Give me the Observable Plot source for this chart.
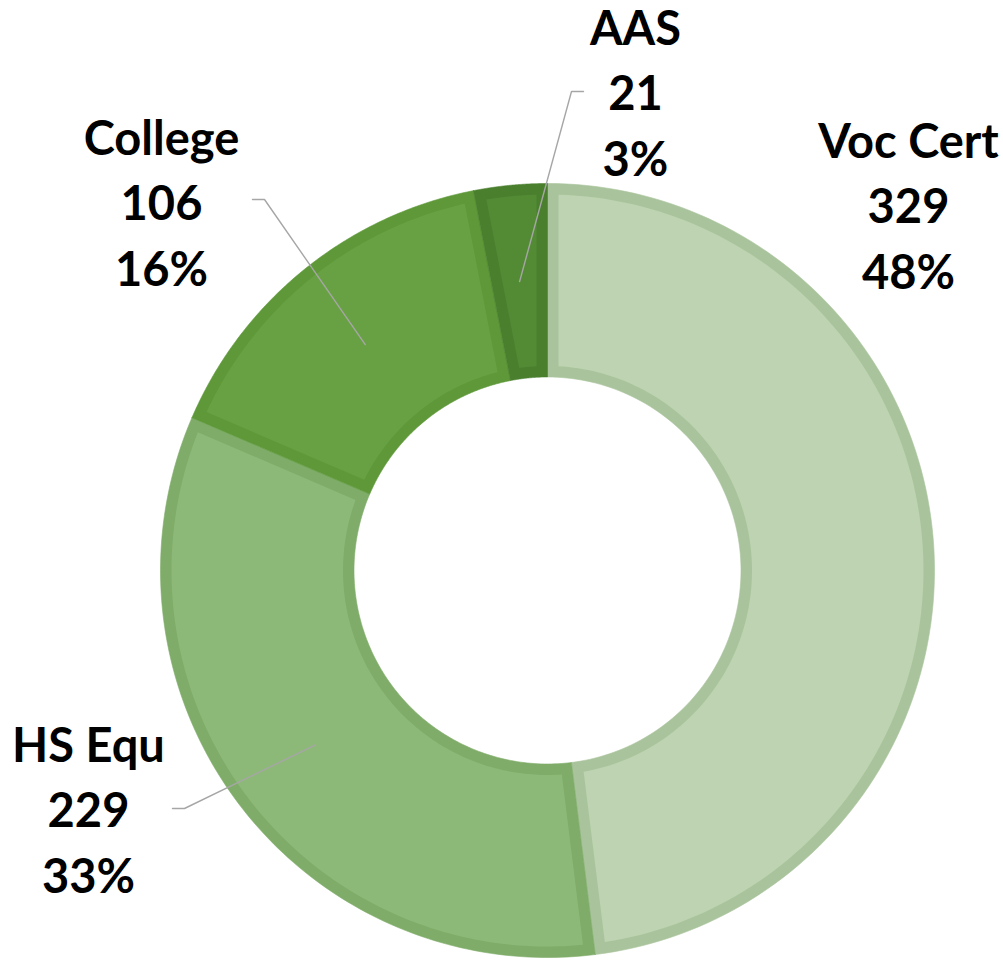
<!DOCTYPE html>
<html>
<head>
<meta charset="utf-8">
<script src="https://cdn.jsdelivr.net/npm/d3@7"></script>
<script src="https://cdn.jsdelivr.net/npm/@observablehq/plot@0.6"></script>
<style>
  html, body { margin: 0; padding: 0; background: #ffffff; }
  #chart svg { display: block; }
</style>
</head>
<body>
<div id="chart"></div>
<script>
// ---- data ----
const categories = ["Voc Cert", "HS Equ", "College", "AAS"];
const counts = [329, 229, 106, 21];
const percents = [48, 33, 16, 3];

// ---- styles ----
const fillColors = ["#bed3b1", "#8db978", "#68a143", "#538b35"];
const borderColors = ["#a9c49c", "#7fac69", "#5e9839", "#4a7f2e"];

// ---- layout (pixels) ----
const W = 1003, H = 962;
const CX = 547, CY = 570, R = 387;       // donut centre and outer radius (px)
const innerRatio = 0.5;                  // inner radius / outer radius
const borderPx = 11;                     // inset border width
const leaderRadius = 0.75;               // where leader lines touch the ring
// label anchor: text centre x, last baseline y (px); leader start (px) or null
const labelLayout = {
  "Voc Cert": {x: 908, y: 288, leader: null},
  "HS Equ":   {x: 88,  y: 892, leader: [172, 808], dir: 1},
  "College":  {x: 161, y: 285, leader: [252, 199], dir: 1},
  "AAS":      {x: 635, y: 175, leader: [583, 91], dir: -1}
};
const elbowPx = 12;

const toUx = px => (px - CX) / R;
const toUy = py => (py - CY) / R;

// ---- geometry from values ----
const pie = d3.pie().sort(null).value(d => d.count)
  .startAngle(0).endAngle(2 * Math.PI);
const rows = categories.map((c, i) => ({cat: c, count: counts[i], pct: percents[i], i}));
const arcs = pie(rows);

function polar(r, a) { return [r * Math.sin(a), -r * Math.cos(a)]; }

function ringPolygon(a0, a1, ro, ri, inset, key, fill) {
  const pts = [];
  const rO = ro - inset, rI = ri + inset;
  const dO = inset ? Math.asin(inset / rO) : 0;
  const dI = inset ? Math.asin(inset / rI) : 0;
  const n = 120;
  const oa0 = a0 + dO, oa1 = a1 - dO;
  const ia0 = a0 + dI, ia1 = a1 - dI;
  for (let k = 0; k <= n; k++) {
    const a = oa0 + (oa1 - oa0) * k / n;
    const [x, y] = polar(rO, a);
    pts.push({key, fill, x, y});
  }
  for (let k = n; k >= 0; k--) {
    const a = ia0 + (ia1 - ia0) * k / n;
    const [x, y] = polar(rI, a);
    pts.push({key, fill, x, y});
  }
  pts.push({...pts[0]});
  return pts;
}

const borderPts = [], innerPts = [];
arcs.forEach(a => {
  const i = a.data.i;
  borderPts.push(...ringPolygon(a.startAngle, a.endAngle, 1, innerRatio, 0, "b" + i, borderColors[i]));
  innerPts.push(...ringPolygon(a.startAngle, a.endAngle, 1, innerRatio, borderPx / R, "f" + i, fillColors[i]));
});

// labels
const labels = arcs.map(a => {
  const L = labelLayout[a.data.cat];
  return {
    text: `${a.data.cat}\n${a.data.count}\n${a.data.pct}%`,
    x: toUx(L.x), y: toUy(L.y)
  };
});

// leader lines: start near label, horizontal elbow, end at slice mid-angle
const leaderPts = [];
arcs.forEach(a => {
  const L = labelLayout[a.data.cat];
  if (!L.leader) return;
  const mid = (a.startAngle + a.endAngle) / 2;
  const [ex, ey] = polar(leaderRadius, mid);
  const key = a.data.cat;
  leaderPts.push({key, x: toUx(L.leader[0]), y: toUy(L.leader[1])});
  leaderPts.push({key, x: toUx(L.leader[0] + L.dir * elbowPx), y: toUy(L.leader[1])});
  leaderPts.push({key, x: ex, y: ey});
});

const chart = Plot.plot({
  width: W,
  height: H,
  margin: 0,
  style: {background: "#ffffff", overflow: "visible"},
  x: {type: "linear", domain: [toUx(0), toUx(W)], range: [0, W], axis: null},
  y: {type: "linear", domain: [toUy(0), toUy(H)], range: [0, H], axis: null},
  color: {type: "identity"},
  marks: [
    Plot.line(borderPts, {x: "x", y: "y", z: "key", fill: "fill", stroke: "fill", strokeWidth: 0.6, curve: "linear"}),
    Plot.line(innerPts, {x: "x", y: "y", z: "key", fill: "fill", stroke: "none", curve: "linear"}),
    Plot.line(leaderPts, {x: "x", y: "y", z: "key", stroke: "#a6a6a6", strokeWidth: 1.4, curve: "linear"}),
    Plot.text(labels, {
      x: "x", y: "y", text: "text",
      textAnchor: "middle", lineAnchor: "bottom", lineHeight: 1.39,
      fontSize: 47, fontWeight: "bold", fontFamily: "Lato, 'Open Sans', sans-serif",
      fill: "#000000"
    })
  ]
});

document.getElementById("chart").appendChild(chart);
</script>
</body>
</html>
